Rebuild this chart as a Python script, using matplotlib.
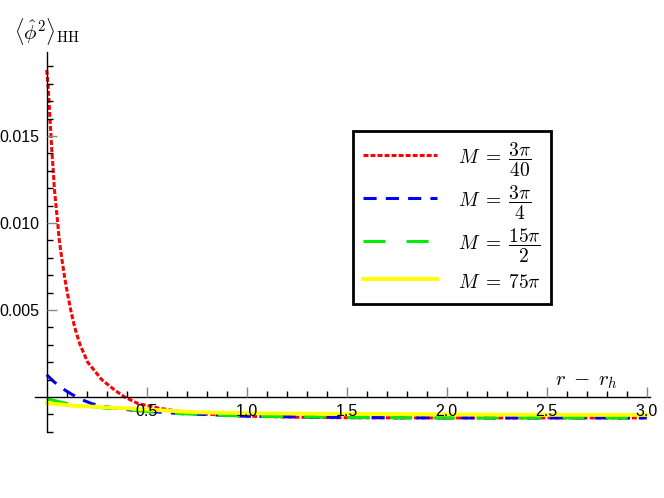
import matplotlib
matplotlib.use("Agg")
import matplotlib.pyplot as plt
from matplotlib.ticker import FixedLocator, NullFormatter

plt.rcParams["mathtext.fontset"] = "cm"
plt.rcParams["font.family"] = ["Liberation Sans", "DejaVu Sans"]

# Values
r_red = [0, 0.0065, 0.0115, 0.0165, 0.0215, 0.0265, 0.033, 0.038, 0.0465,
         0.055, 0.063, 0.075, 0.088, 0.103, 0.12, 0.14, 0.167, 0.205, 0.275,
         0.342, 0.39, 0.457, 0.566, 0.667, 0.8, 1.0, 1.25, 1.5, 2.0, 2.5, 3.0]
phi_red = [0.0188, 0.018, 0.017, 0.016, 0.015, 0.014, 0.013, 0.012, 0.011,
           0.010, 0.009, 0.008, 0.007, 0.006, 0.005, 0.004, 0.003, 0.002,
           0.001, 0.00038, 0.0, -0.00038, -0.00065, -0.00084, -0.00098,
           -0.0011, -0.00116, -0.00119, -0.0012, -0.0012, -0.0012]

r_blue = [0, 0.037, 0.08, 0.125, 0.175, 0.225, 0.28, 0.325, 0.43, 0.67, 1.0,
          1.5, 2.0, 2.5, 3.0]
phi_blue = [0.00128, 0.00087, 0.00048, 0.00016, -0.00015, -0.00038, -0.00052,
            -0.00061, -0.00076, -0.00095, -0.0011, -0.00118, -0.0012, -0.0012,
            -0.0012]

r_green = [0, 0.1, 0.3, 0.63, 1.0, 1.5, 2.0, 2.5, 3.0]
phi_green = [-0.0001, -0.00037, -0.00065, -0.00094, -0.0011, -0.00117,
             -0.0012, -0.0012, -0.0012]

r_yellow = [0, 0.133, 0.38, 0.75, 1.0, 1.5, 2.0, 2.5, 3.0]
phi_yellow = [-0.00035, -0.0005, -0.00064, -0.00088, -0.00093, -0.00097,
              -0.001, -0.00102, -0.00103]

labels = [r"$M\;=\;\dfrac{3\pi}{40}$", r"$M\;=\;\dfrac{3\pi}{4}$",
          r"$M\;=\;\dfrac{15\pi}{2}$", r"$M\;=\;75\pi$"]

x_major = [0.5, 1.0, 1.5, 2.0, 2.5, 3.0]
y_major = [0.005, 0.010, 0.015]
y_major_labels = ["0.005", "0.010", "0.015"]

fig = plt.figure(figsize=(6.64, 4.98), dpi=100)
ax = fig.add_axes([35 / 664, 1 - 432 / 498, 615 / 664, 380 / 498])

# curves (dash patterns as in the Mathematica original)
ax.plot(r_red, phi_red, color="red", lw=2.2, linestyle=(0, (1.6, 0.7)),
        label=labels[0])
ax.plot(r_blue, phi_blue, color="blue", lw=2.2, linestyle=(0, (4.3, 3.0)),
        label=labels[1])
ax.plot(r_green, phi_green, color="#00ee00", lw=2.2, linestyle=(0, (7.2, 6.9)),
        label=labels[2])
ax.plot(r_yellow, phi_yellow, color="yellow", lw=2.8, label=labels[3])

ax.set_xlim(-0.0585, 3.0165)
ax.set_ylim(-0.00201, 0.01983)
ax.set_axisbelow(False)

# Mathematica-like axes crossing at the origin
for side in ["top", "right"]:
    ax.spines[side].set_visible(False)
ax.spines["left"].set_position(("data", 0))
ax.spines["bottom"].set_position(("data", 0))
ax.spines["left"].set_linewidth(1.0)
ax.spines["bottom"].set_linewidth(1.0)

ax.xaxis.set_major_locator(FixedLocator(x_major))
ax.xaxis.set_minor_locator(FixedLocator([i / 10 for i in range(1, 31) if i % 5]))
ax.set_xticklabels([f"{v:.1f}" for v in x_major])
ax.yaxis.set_major_locator(FixedLocator(y_major))
ax.yaxis.set_minor_locator(
    FixedLocator([i / 1000 for i in range(-2, 20) if i % 5 and i != 0]))
ax.set_yticklabels(y_major_labels)
ax.xaxis.set_minor_formatter(NullFormatter())

ax.tick_params(which="major", direction="in", length=7, width=1,
               color="#888888", labelsize=11.5, pad=5)
ax.tick_params(which="minor", direction="in", length=4.5, width=1,
               color="black")

ax.text(-0.163, 0.02103, r"$\langle\hat{\phi}^2\rangle_{\mathrm{HH}}$",
        fontsize=15, ha="left", va="center", clip_on=False)
ax.text(2.7, 0.00088, r"$r\;-\;r_h$", fontsize=15, ha="center", va="center")

leg = ax.legend(loc="upper left", bbox_to_anchor=(353 / 664, 1 - 131 / 498),
                bbox_transform=fig.transFigure, fontsize=14, frameon=True,
                fancybox=False, framealpha=1, edgecolor="black",
                handlelength=3.8, handleheight=1.6, handletextpad=1.1,
                borderpad=0.5, labelspacing=0.25, borderaxespad=0)
leg.get_frame().set_linewidth(2)

fig.savefig("out.png", dpi=100, facecolor="white")
